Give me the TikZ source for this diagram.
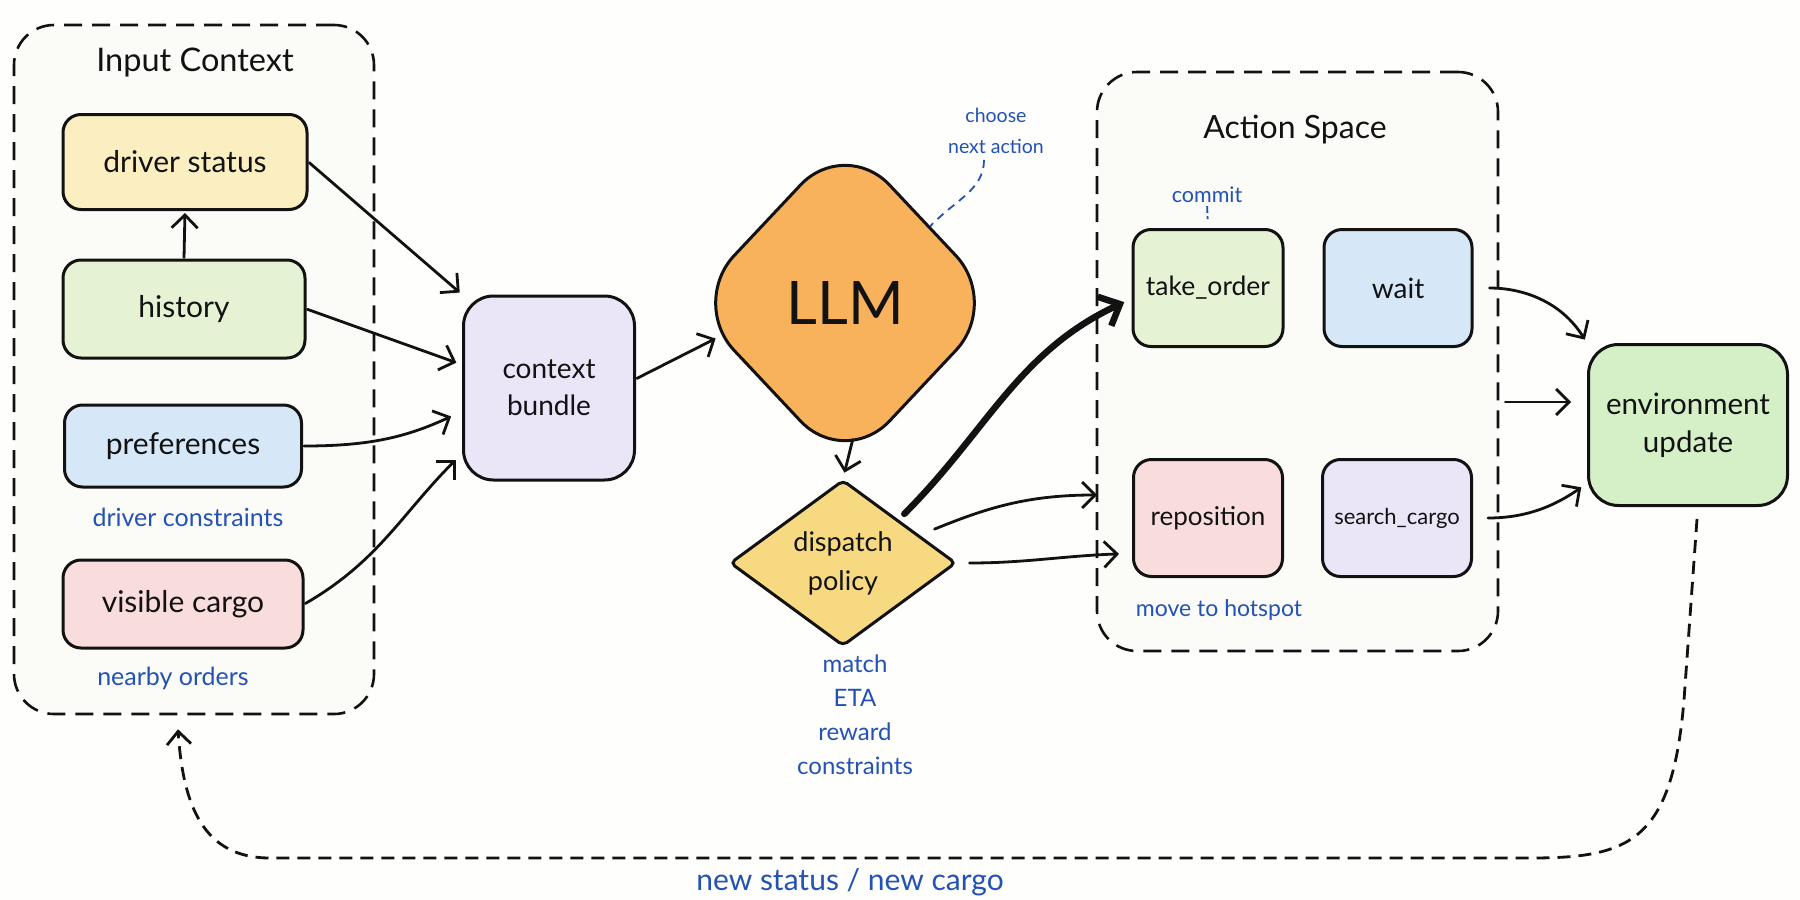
\documentclass[tikz,border=0pt]{standalone}
\usepackage{fontspec}
\setmainfont{Lato}
\usetikzlibrary{arrows.meta,shapes.geometric,calc}
\definecolor{ink}{HTML}{121212}
\definecolor{bluetxt}{HTML}{2352B4}
\definecolor{cyel}{HTML}{FBEFC2}
\definecolor{cgreen}{HTML}{E5F3D4}
\definecolor{cblue}{HTML}{D6E8F8}
\definecolor{cpink}{HTML}{F9DDDC}
\definecolor{clav}{HTML}{EAE5F7}
\definecolor{corange}{HTML}{F9B25C}
\definecolor{cdisp}{HTML}{F7D982}
\definecolor{cenv}{HTML}{D5EFC7}
\definecolor{cbg}{HTML}{FBFBF8}
\definecolor{pagebg}{HTML}{FEFEFD}
\begin{document}
\begin{tikzpicture}[x=1pt,y=-1pt,
  box/.style={draw=ink, line width=3pt, rounded corners=18pt, align=center, inner sep=0pt, text=ink,
              font=\fontsize{30}{37}\selectfont},
  container/.style={draw=ink, line width=2.6pt, dash pattern=on 18pt off 10pt, rounded corners=40pt, fill=cbg, inner sep=0pt},
  note/.style={text=bluetxt, align=center, inner sep=0pt, font=\fontsize{25}{34}\selectfont},
  title/.style={text=ink, inner sep=0pt, font=\fontsize{32.5}{38}\selectfont},
  arr/.style={draw=ink, line width=2.8pt, line cap=round, line join=round, -{Straight Barb[length=13pt,width=26pt]}},
  thickarr/.style={draw=ink, line width=6.5pt, line cap=round, line join=round, -{Straight Barb[length=17pt,width=32pt]}},
  looparr/.style={draw=ink, line width=2.8pt, dash pattern=on 13pt off 8pt, -{Straight Barb[length=13pt,width=24pt]}},
  leader/.style={draw=bluetxt, line width=1.8pt, dash pattern=on 8pt off 6pt}
]
\useasboundingbox (0,0) rectangle (1800,900);
\fill[pagebg] (0,0) rectangle (1800,900);

% containers
\node[container, minimum width=360pt, minimum height=689pt] (inctx) at (194,369.5) {};
\node[title] (inctitle) at (195,63) {Input Context};
\node[container, minimum width=401pt, minimum height=579pt] (aspace) at (1297.5,361.5) {};
\node[title, font=\fontsize{32}{38}\selectfont] (astitle) at (1295,130) {Action Space};

% input nodes
\node[box, fill=cyel, minimum width=244pt, minimum height=95pt] (drv) at (185,162) {driver status};
\node[box, fill=cgreen, minimum width=242pt, minimum height=98pt] (hist) at (184,309) {history};
\node[box, fill=cblue, minimum width=237pt, minimum height=82pt] (pref) at (183,446) {preferences};
\node[note] (prefnote) at (188,517) {driver constraints};
\node[box, fill=cpink, minimum width=240pt, minimum height=88pt] (cargo) at (183,604) {visible cargo};
\node[note] (cargonote) at (173,678) {nearby orders};

% bundle, llm, dispatch
\node[box, fill=clav, rounded corners=30pt, minimum width=171pt, minimum height=184pt, font=\fontsize{28}{37}\selectfont] (bundle) at (549,388) {context\\bundle};
\node[draw=ink, line width=3pt, fill=corange, diamond, rounded corners=65pt, minimum width=312pt, minimum height=332pt,
      inner sep=0pt, text=ink, font=\fontsize{60}{70}\selectfont] (llm) at (845,303) {LLM};
\node[note, font=\fontsize{19.5}{31}\selectfont] (choose) at (996,131) {choose\\next action};
\node[draw=ink, line width=3pt, fill=cdisp, diamond, aspect=1.37, rounded corners=5pt, minimum width=226pt, minimum height=166pt,
      inner sep=0pt, align=center, text=ink, font=\fontsize{27}{39}\selectfont] (disp) at (843,563) {dispatch\\policy};
\node[note, font=\fontsize{24}{34}\selectfont] (dispnote) at (855,715) {match\\ETA\\reward\\constraints};

% actions
\node[note, font=\fontsize{21.5}{26}\selectfont] (commit) at (1207,195) {commit};
\node[box, fill=cgreen, minimum width=150pt, minimum height=117pt, font=\fontsize{26.5}{30}\selectfont] (take) at (1208,288) {take\_order};
\node[box, fill=cblue, minimum width=148pt, minimum height=117pt, font=\fontsize{28}{30}\selectfont] (wait) at (1398,288) {wait};
\node[box, fill=cpink, minimum width=149pt, minimum height=117pt, font=\fontsize{26}{30}\selectfont] (repo) at (1208,518) {reposition};
\node[box, fill=clav, minimum width=149pt, minimum height=117pt, font=\fontsize{22}{26}\selectfont] (search) at (1397,518) {search\_cargo};
\node[note, font=\fontsize{23}{28}\selectfont] (reponote) at (1219,610) {move to hotspot};

% environment
\node[box, fill=cenv, rounded corners=30pt, minimum width=199pt, minimum height=161pt, font=\fontsize{29.5}{38}\selectfont] (env) at (1688,425) {environment\\update};
\node[note, font=\fontsize{30}{36}\selectfont] (loopnote) at (850,882) {new status / new cargo};

\coordinate (upin) at (1097,495);
\coordinate (midin) at (1571,402);

% connectors
\draw[arr, shorten <=1pt, shorten >=2pt] (hist.north) -- (drv.south);
\draw[arr, shorten <=1pt, shorten >=3pt] (drv.east) -- (bundle.north west);
\draw[arr, shorten <=1pt, shorten >=6pt] (hist.east) -- (bundle.165);
\draw[arr, shorten <=1pt, shorten >=12pt] (pref.east) to[out=0,in=205] (bundle.195);
\draw[arr, shorten <=1pt, shorten >=9pt] (cargo.east) to[out=30,in=225] (bundle.217);
\draw[arr, shorten <=1pt, shorten >=4pt] (bundle.6) -- (llm.195);
\draw[arr, shorten <=32pt, shorten >=6pt] (llm.south) -- (disp.north);
\draw[leader] ($(choose.south)+(-12,6)$) .. controls ($(choose.south)+(-12,36)$) and (955,200) .. (llm.42);
\draw[leader, dash pattern=on 7pt off 3pt, shorten <=3pt, shorten >=9pt] (commit.south) -- (take.north);

\draw[thickarr, shorten <=8pt, shorten >=8pt] (disp.38) to[out=45,in=205] (take.188);
\draw[arr, shorten <=16pt] (disp.20) to[out=22,in=180] (upin);
\draw[arr, shorten <=12pt, shorten >=13pt] (disp.east) to[out=0,in=182] (repo.205);

\draw[arr, shorten <=16pt, shorten >=4pt] (wait.east) to[out=0,in=122] (env.north west);
\draw[arr, shorten <=6pt] (aspace.east |- midin) -- (midin);
\draw[arr, shorten <=15pt, shorten >=7pt] (search.east) to[out=0,in=215] (env.210);

\draw[looparr] ($(env.south)+(9,12)$) -- (1684,700) .. controls (1672,842) and (1630,858) .. (1530,858)
   -- (270,858) .. controls (203,858) and (183,805) .. ($(inctx.south)+(-16,14)$);
\end{tikzpicture}
\end{document}
